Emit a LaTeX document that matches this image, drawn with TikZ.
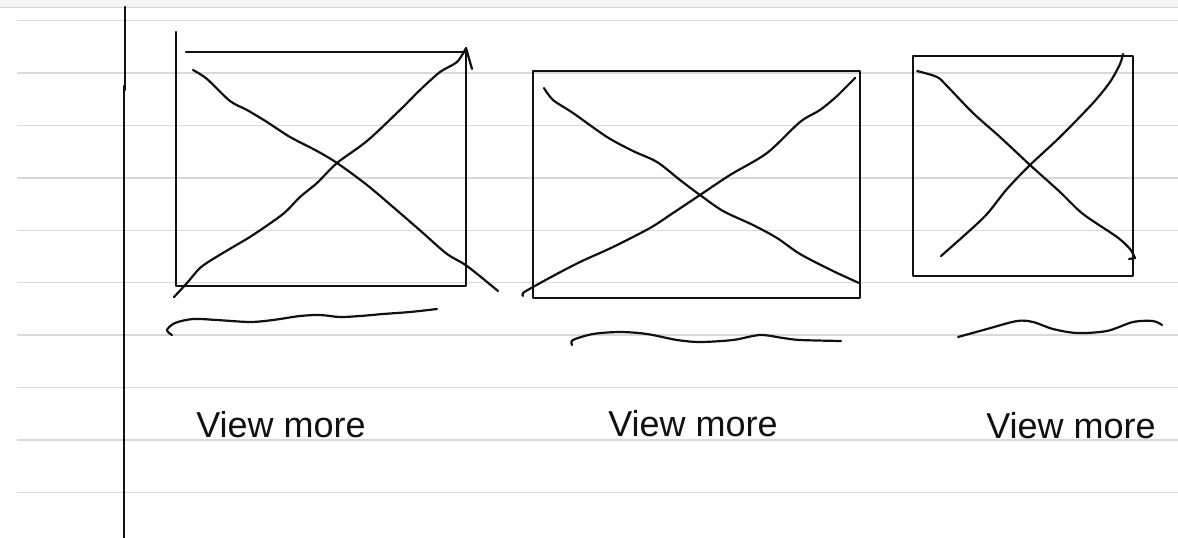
\documentclass[tikz,border=0pt]{standalone}
\usepackage{fontspec}
\setmainfont{Liberation Sans}
\usepackage{tikz}
\definecolor{ruleGrey}{HTML}{D9D9D9}
\definecolor{penInk}{HTML}{111111}

\begin{document}
\begin{tikzpicture}[x=1pt,y=-1pt,
  pen/.style={penInk,line width=2.2pt,line cap=round,line join=round},
  ruling/.style={ruleGrey,line width=1.4pt},
  caption/.style={penInk,anchor=base,inner sep=0pt,font=\fontsize{36}{40}\selectfont}]
\useasboundingbox (0,0) rectangle (1178,538);
\fill[black!4] (0,0) rectangle (1178,7);
\draw[ruleGrey,line width=1pt] (0,7) -- (1178,7);
\foreach \k in {0,...,9}
  \draw[ruling] (17,20.7+52.4*\k) -- (1178,20.7+52.4*\k);
% margin line
\draw[pen] (125,7) -- (125,90);
\draw[pen] (124,86) -- (124,538);
% first card
\draw[pen] (176,32) -- (176,286) -- (466,286) -- (466,52) -- (186,52);
\draw[pen] plot[smooth] coordinates {(193,70) (207,79) (230,101) (247,110) (267,122) (290,137) (317,151) (337,163) (367,185) (400,213) (423,233) (447,254) (467,266) (498,291)};
\draw[pen] plot[smooth] coordinates {(174,297) (187,283) (200,268) (213,259) (233,247) (253,235) (283,214) (300,197) (317,183) (337,163) (367,141) (400,110) (420,90) (440,72) (457,62) (466,48)} -- (472,69);
\draw[pen] plot[smooth] coordinates {(172,335) (167,330) (175,323) (193,319) (217,320) (250,322) (273,320) (300,316) (320,315) (340,317) (360,316) (383,314) (410,312) (437,309)};
% second card
\draw[pen] (533,71) rectangle (860,298);
\draw[pen] plot[smooth] coordinates {(544,88) (553,100) (573,113) (607,137) (633,151) (657,162) (680,180) (700,195) (723,211) (753,225) (777,238) (800,254) (833,271) (859,283)};
\draw[pen] plot[smooth] coordinates {(523,296) (523,293) (533,287) (553,276) (580,262) (613,247) (650,228) (673,213) (700,195) (730,175) (767,153) (800,122) (820,110) (837,96) (855,78)};
\draw[pen] plot[smooth] coordinates {(572,345) (573,340) (593,334) (620,332) (647,334) (677,340) (700,342) (733,340) (760,335) (783,338) (800,340) (841,341)};
% third card
\draw[pen] (913,56) rectangle (1133,276);
\draw[pen] plot[smooth] coordinates {(917,71) (937,77) (947,86) (973,113) (1000,137) (1030,165) (1060,192) (1083,214) (1117,237) (1130,249) (1135,258)} -- (1129,259);
\draw[pen] plot[smooth] coordinates {(941,256) (967,233) (987,214) (1007,189) (1030,165) (1060,137) (1093,103) (1110,82) (1120,64) (1123,54)};
\draw[pen] plot[smooth] coordinates {(958,337) (987,329) (1017,321) (1033,322) (1053,329) (1077,333) (1107,331) (1133,322) (1153,321) (1162,325)};
% links
\foreach \n/\x/\y in {1/281/437,2/693/436,3/1071/438}
  \node[caption] (more\n) at (\x,\y) {View more};
\end{tikzpicture}
\end{document}
